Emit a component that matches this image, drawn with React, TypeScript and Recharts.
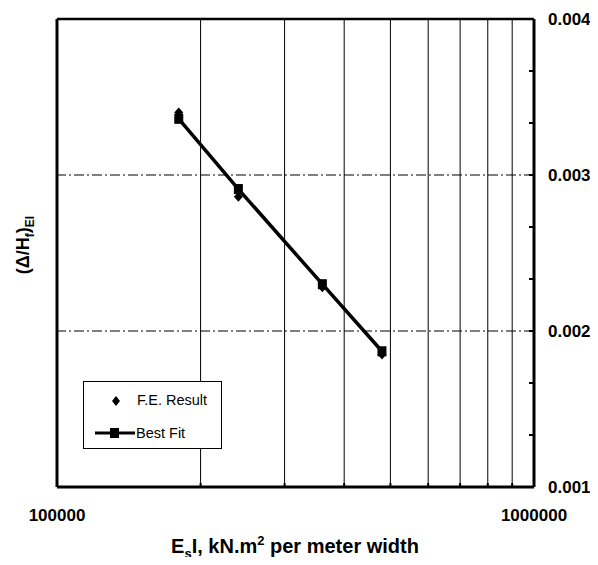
import React from "react";
import {
  ComposedChart,
  Scatter,
  XAxis,
  YAxis,
  CartesianGrid,
  ReferenceLine,
  Legend,
} from "recharts";

// stiffness values (E_s I) of the four F.E. runs
const EI_VALUES = [180000, 240000, 360000, 480000];
// F.E. results for (Δ/H_f)_EI
const FE_RESULTS = [0.0034, 0.00286, 0.00228, 0.00185];
// best fit line through the results
const BEST_FIT = [0.00336, 0.00291, 0.0023, 0.00187];

const X_TICKS = [100000, 200000, 300000, 400000, 500000, 600000, 700000, 800000, 900000, 1000000];
const X_LABELED = [100000, 1000000];
const Y_TICKS = [0.001, 0.0013333, 0.0016667, 0.002, 0.0023333, 0.0026667, 0.003, 0.0033333, 0.0036667, 0.004];
const Y_GRID = [0.002, 0.003];

const FONT = "'Liberation Sans', Arial, sans-serif";

const feData = EI_VALUES.map((x, i) => ({ x, y: FE_RESULTS[i] }));
const fitData = EI_VALUES.map((x, i) => ({ x, y: BEST_FIT[i] }));

function XTick({ x, y, payload }: any) {
  const show = X_LABELED.includes(payload.value);
  return (
    <g>
      <line x1={x} x2={x} y1={y - 4} y2={y} stroke="#000" strokeWidth={2} />
      {show && (
        <text x={x} y={y + 34} textAnchor="middle" fontFamily={FONT} fontWeight="bold" fontSize={17} fill="#000">
          {payload.value}
        </text>
      )}
    </g>
  );
}

function YTick({ x, y, payload }: any) {
  const v = payload.value;
  const major = Math.abs(v * 1000 - Math.round(v * 1000)) < 1e-4;
  return (
    <g>
      <line x1={x - 5} x2={x} y1={y} y2={y} stroke="#000" strokeWidth={2} />
      {major && (
        <text x={x + 14} y={y + 6} textAnchor="start" fontFamily={FONT} fontWeight="bold" fontSize={17} fill="#000">
          {v.toFixed(3)}
        </text>
      )}
    </g>
  );
}

function Diamond({ cx, cy }: any) {
  return <polygon points={`${cx},${cy - 5} ${cx + 4.5},${cy} ${cx},${cy + 5} ${cx - 4.5},${cy}`} fill="#000" />;
}

function Square({ cx, cy }: any) {
  return <rect x={cx - 4.5} y={cy - 5} width={9} height={10} fill="#000" />;
}

function LegendBox() {
  return (
    <div
      style={{
        position: "relative",
        width: 139,
        height: 68,
        border: "1px solid #000",
        background: "#fff",
        boxSizing: "border-box",
        fontFamily: FONT,
        fontSize: 14.5,
        color: "#000",
      }}
    >
      <svg width={20} height={20} style={{ position: "absolute", left: 22, top: 9 }}>
        <polygon points="10,5 14,10 10,15 6,10" fill="#000" />
      </svg>
      <span style={{ position: "absolute", left: 53, top: 10 }}>F.E. Result</span>
      <svg width={42} height={14} style={{ position: "absolute", left: 10, top: 44 }}>
        <line x1={1} x2={41} y1={7} y2={7} stroke="#000" strokeWidth={3} />
        <rect x={16} y={2} width={9} height={10} fill="#000" />
      </svg>
      <span style={{ position: "absolute", left: 52, top: 43 }}>Best Fit</span>
    </div>
  );
}

export default function App() {
  return (
    <div style={{ position: "relative", width: 590, height: 549, background: "#fff" }}>
      <ComposedChart width={590} height={549} margin={{ top: 11, right: 4, left: 49, bottom: 30 }}>
        <CartesianGrid horizontal={false} vertical stroke="#000" strokeWidth={1} />
        <XAxis
          dataKey="x"
          type="number"
          scale="log"
          domain={[100000, 1000000]}
          ticks={X_TICKS}
          allowDataOverflow
          height={40}
          tickSize={0}
          tickMargin={0}
          tickLine={false}
          axisLine={{ stroke: "#000", strokeWidth: 3 }}
          tick={<XTick />}
          interval={0}
        />
        <YAxis
          dataKey="y"
          type="number"
          orientation="right"
          domain={[0.001, 0.004]}
          ticks={Y_TICKS}
          allowDataOverflow
          width={60}
          tickSize={0}
          tickMargin={0}
          tickLine={false}
          axisLine={{ stroke: "#000", strokeWidth: 3 }}
          tick={<YTick />}
          interval={0}
        />
        {Y_GRID.map((v) => (
          <ReferenceLine key={v} y={v} stroke="#000" strokeWidth={1} strokeDasharray="10 3 2 3" />
        ))}
        <ReferenceLine y={0.004} stroke="#000" strokeWidth={2.5} />
        <ReferenceLine x={100000} stroke="#000" strokeWidth={3} />
        <Legend
          layout="horizontal"
          verticalAlign="middle"
          align="center"
          wrapperStyle={{ left: 75, top: 373, width: 139, height: 68 }}
          content={() => <LegendBox />}
        />
        <Scatter name="F.E. Result" data={feData} shape={<Diamond />} isAnimationActive={false} />
        <Scatter
          name="Best Fit"
          data={fitData}
          shape={<Square />}
          line={{ stroke: "#000", strokeWidth: 3.5 }}
          isAnimationActive={false}
        />
      </ComposedChart>
      <div
        style={{
          position: "absolute",
          left: 17,
          top: 237,
          transform: "translate(-50%, -50%) rotate(-90deg)",
          fontFamily: FONT,
          fontWeight: "bold",
          fontSize: 18,
          whiteSpace: "nowrap",
          color: "#000",
        }}
      >
        (Δ/H<sub style={{ fontSize: 12 }}>f</sub>)<sub style={{ fontSize: 12 }}>EI</sub>
      </div>
      <div
        style={{
          position: "absolute",
          left: 287,
          top: 528,
          height: 20,
          lineHeight: "20px",
          transform: "translateX(-50%)",
          fontFamily: FONT,
          fontWeight: "bold",
          fontSize: 20,
          whiteSpace: "nowrap",
          color: "#000",
        }}
      >
        E<sub style={{ fontSize: 13, lineHeight: 0 }}>s</sub>I, kN.m
        <sup style={{ fontSize: 13, lineHeight: 0 }}>2</sup> per meter width
      </div>
    </div>
  );
}
